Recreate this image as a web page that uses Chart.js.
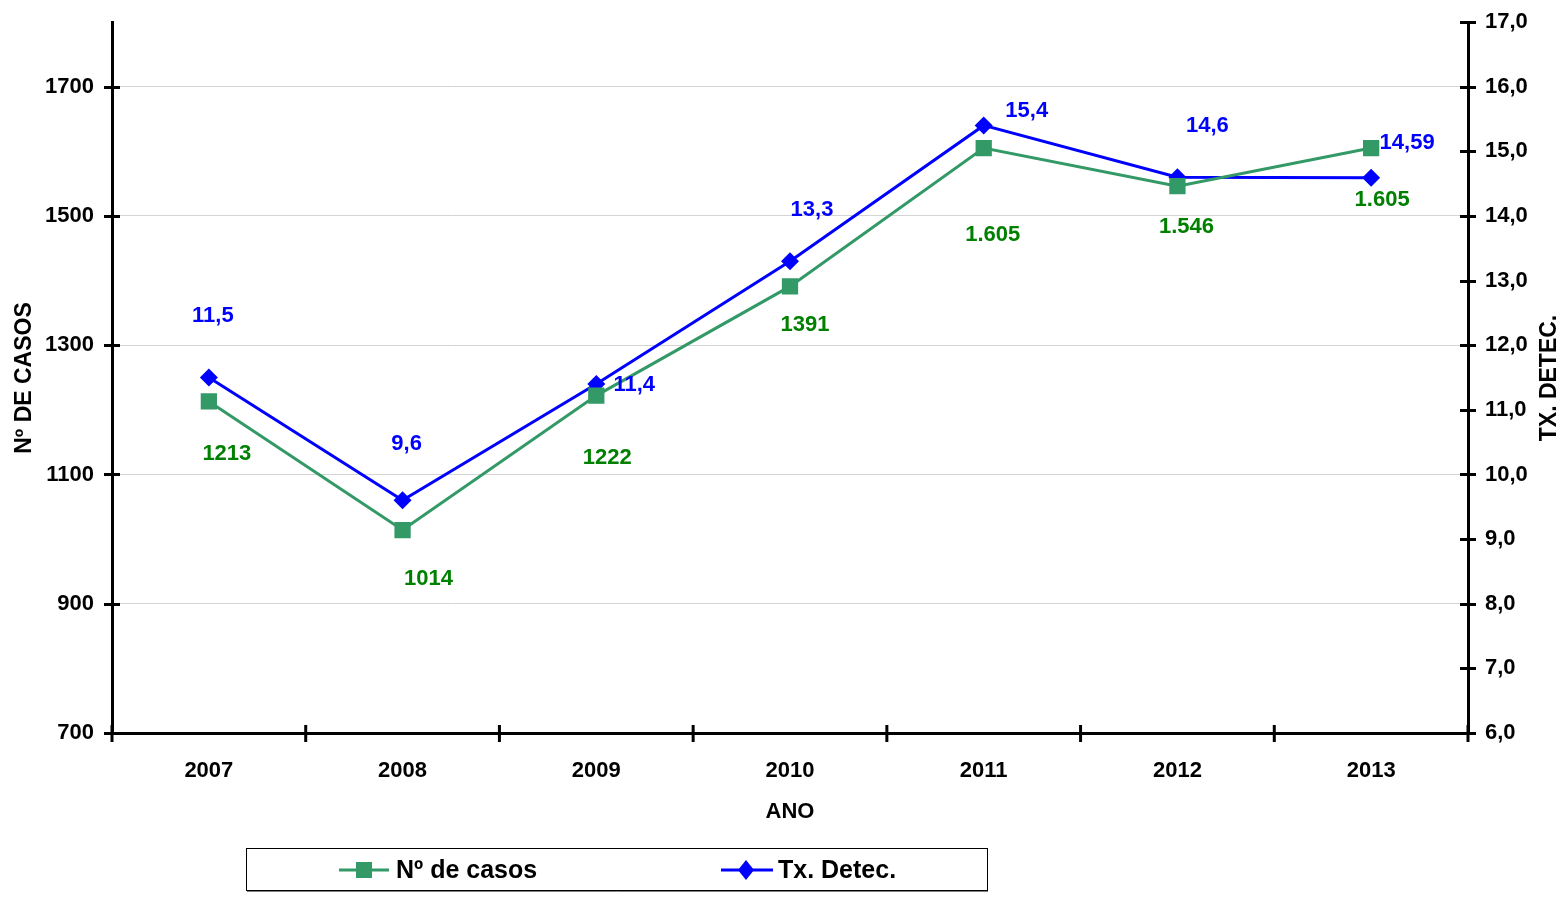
<!DOCTYPE html>
<html>
<head>
<meta charset="utf-8">
<script src="https://cdn.jsdelivr.net/npm/chart.js@4.4.1/dist/chart.umd.min.js"></script>
<style>
  html, body { margin: 0; padding: 0; background: #ffffff; }
  #wrap { width: 1564px; height: 903px; position: relative; }
</style>
</head>
<body>
<div id="wrap"><canvas id="c" width="1564" height="903"></canvas></div>
<script>
// ---- data ----
const years = ['2007', '2008', '2009', '2010', '2011', '2012', '2013'];
const casos = [1213, 1014, 1222, 1391, 1605, 1546, 1605];
const taxa = [11.5, 9.6, 11.4, 13.3, 15.4, 14.6, 14.59];
const casosLabels = ['1213', '1014', '1222', '1391', '1.605', '1.546', '1.605'];
const taxaLabels = ['11,5', '9,6', '11,4', '13,3', '15,4', '14,6', '14,59'];
const leftTicks = [700, 900, 1100, 1300, 1500, 1700];
const rightTicks = [6, 7, 8, 9, 10, 11, 12, 13, 14, 15, 16, 17];
const leftMin = 700, leftMax = 1800;
const rightMin = 6, rightMax = 17;

// ---- styling ----
const FONT = '"Liberation Sans", Arial, sans-serif';
const GREEN = '#339966';
const GREEN_TXT = '#008000';
const BLUE = '#0000ff';
const casosLabelOffsets = [[18, 53], [26, 49], [11, 62], [15, 39], [9, 87], [9, 41], [11, 52]];
const taxaLabelOffsets = [[4, -62], [4, -56], [38, 1], [22, -51], [43, -14], [30, -51], [36, -35]];

const decorPlugin = {
  id: 'decor',
  afterDatasetsDraw(chart) {
    const ctx = chart.ctx;
    ctx.save();
    ctx.font = 'bold 22px ' + FONT;
    ctx.textAlign = 'center';
    ctx.textBaseline = 'middle';
    const m0 = chart.getDatasetMeta(0), m1 = chart.getDatasetMeta(1);
    m0.data.forEach((p, i) => {
      ctx.fillStyle = GREEN_TXT;
      ctx.fillText(casosLabels[i], p.x + casosLabelOffsets[i][0], p.y + casosLabelOffsets[i][1]);
    });
    m1.data.forEach((p, i) => {
      ctx.fillStyle = BLUE;
      ctx.fillText(taxaLabels[i], p.x + taxaLabelOffsets[i][0], p.y + taxaLabelOffsets[i][1]);
    });
    ctx.restore();
  },
  afterDraw(chart) {
    const ctx = chart.ctx;
    const ca = chart.chartArea;
    const yl = chart.scales.y, yr = chart.scales.y1;
    ctx.save();
    ctx.strokeStyle = '#000';
    ctx.lineWidth = 3;
    leftTicks.forEach(v => {
      const y = Math.round(yl.getPixelForValue(v)) + 0.5;
      ctx.beginPath(); ctx.moveTo(ca.left - 8, y); ctx.lineTo(ca.left + 8, y); ctx.stroke();
    });
    rightTicks.forEach(v => {
      const y = Math.round(yr.getPixelForValue(v)) + 0.5;
      ctx.beginPath(); ctx.moveTo(ca.right - 8, y); ctx.lineTo(ca.right + 8, y); ctx.stroke();
    });
    const n = years.length;
    for (let i = 0; i <= n; i++) {
      const x = ca.left + i * (ca.right - ca.left) / n;
      ctx.beginPath(); ctx.moveTo(x, ca.bottom - 8); ctx.lineTo(x, ca.bottom + 9); ctx.stroke();
    }
    // axis titles
    ctx.fillStyle = '#000';
    ctx.font = 'bold 23px ' + FONT;
    ctx.textAlign = 'center';
    ctx.textBaseline = 'middle';
    ctx.save();
    ctx.translate(25, 378); ctx.rotate(-Math.PI / 2); ctx.fillText('Nº DE CASOS', 0, 0);
    ctx.restore();
    ctx.save();
    ctx.translate(1550, 378); ctx.rotate(-Math.PI / 2); ctx.fillText('TX. DETEC.', 0, 0);
    ctx.restore();
    ctx.font = 'bold 22px ' + FONT;
    ctx.fillText('ANO', (ca.left + ca.right) / 2, 812);
    // legend
    ctx.lineWidth = 1;
    ctx.strokeStyle = '#000';
    ctx.strokeRect(246.5, 848.5, 741, 42);
    ctx.strokeStyle = '#808080';
    ctx.beginPath(); ctx.moveTo(247, 891.5); ctx.lineTo(988, 891.5); ctx.stroke();
    ctx.strokeStyle = GREEN; ctx.lineWidth = 3;
    ctx.beginPath(); ctx.moveTo(339, 870); ctx.lineTo(389, 870); ctx.stroke();
    ctx.fillStyle = GREEN; ctx.fillRect(356, 862, 16, 16);
    ctx.strokeStyle = BLUE;
    ctx.beginPath(); ctx.moveTo(721, 870); ctx.lineTo(773, 870); ctx.stroke();
    ctx.fillStyle = BLUE;
    ctx.beginPath(); ctx.moveTo(746, 860); ctx.lineTo(754, 870); ctx.lineTo(746, 880); ctx.lineTo(738, 870); ctx.closePath(); ctx.fill();
    ctx.fillStyle = '#000';
    ctx.font = 'bold 25px ' + FONT;
    ctx.textAlign = 'left';
    ctx.fillText('Nº de casos', 396, 871);
    ctx.fillText('Tx. Detec.', 778, 871);
    ctx.restore();
  }
};

new Chart(document.getElementById('c'), {
  type: 'line',
  data: {
    labels: years,
    datasets: [
      {
        label: 'Nº de casos', data: casos, yAxisID: 'y',
        borderColor: GREEN, backgroundColor: GREEN, borderWidth: 3,
        pointStyle: 'rect', pointRadius: 11.5, pointBorderWidth: 0,
        pointBackgroundColor: GREEN, tension: 0
      },
      {
        label: 'Tx. Detec.', data: taxa, yAxisID: 'y1',
        borderColor: BLUE, backgroundColor: BLUE, borderWidth: 3,
        pointStyle: 'rectRot', pointRadius: 9, pointBorderWidth: 0,
        pointBackgroundColor: BLUE, tension: 0
      }
    ]
  },
  options: {
    responsive: false,
    devicePixelRatio: 1,
    animation: false,
    layout: { padding: { top: 22, left: 0, right: 0, bottom: 0 } },
    plugins: { legend: { display: false }, tooltip: { enabled: false } },
    scales: {
      x: {
        type: 'category', offset: true,
        grid: { display: false, drawTicks: false },
        border: { display: true, color: '#000', width: 3 },
        ticks: { color: '#000', font: { family: FONT, size: 22, weight: 'bold' }, padding: 25, maxRotation: 0 },
        afterFit(s) { s.height = 170; s.paddingLeft = 0; s.paddingRight = 0; }
      },
      y: {
        position: 'left', min: leftMin, max: leftMax,
        afterBuildTicks(s) { s.ticks = leftTicks.map(v => ({ value: v })); },
        grid: { drawTicks: false, color: (c) => c.tick && c.tick.value === leftMin ? 'rgba(0,0,0,0)' : '#d4d4d4', lineWidth: 1 },
        border: { display: true, color: '#000', width: 3 },
        ticks: {
          color: '#000', font: { family: FONT, size: 22, weight: 'bold' }, padding: 18,
          callback: (v) => String(v)
        },
        afterFit(s) { s.width = 112; s.paddingTop = 0; s.paddingBottom = 0; }
      },
      y1: {
        position: 'right', min: rightMin, max: rightMax,
        afterBuildTicks(s) { s.ticks = rightTicks.map(v => ({ value: v })); },
        grid: { drawOnChartArea: false, drawTicks: false },
        border: { display: true, color: '#000', width: 3 },
        ticks: {
          color: '#000', font: { family: FONT, size: 22, weight: 'bold' }, padding: 17,
          callback: (v) => Number(v).toFixed(1).replace('.', ',')
        },
        afterFit(s) { s.width = 96; s.paddingTop = 0; s.paddingBottom = 0; }
      }
    }
  },
  plugins: [decorPlugin]
});
</script>
</body>
</html>
